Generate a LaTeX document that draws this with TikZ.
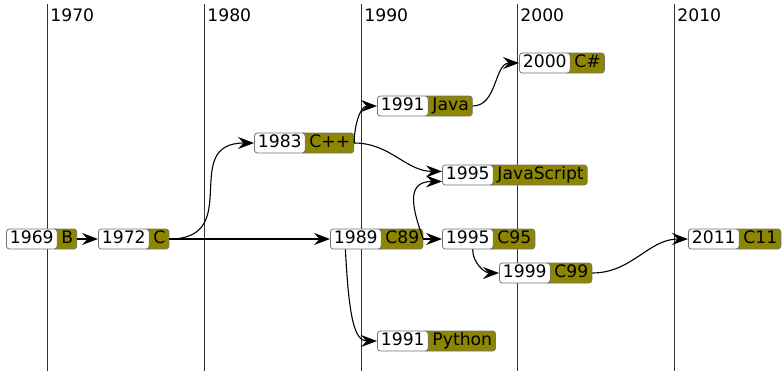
\documentclass[tikz,border=0pt]{standalone}
\usepackage{fontspec}
\setmainfont{DejaVu Sans}
\usepackage{tikz}
\usetikzlibrary{arrows.meta,positioning,backgrounds}
\tikzstyle{year} = [draw=black!55, fill=white, rounded corners=1.5pt, inner xsep=1.75pt, inner ysep=0pt, text height=6.4pt, text depth=2pt, minimum height=10pt, anchor=west]
\tikzstyle{lang} = [draw=black!55, fill=olive, rounded corners=1.5pt, inner xsep=1.75pt, inner ysep=0pt, text height=6.4pt, text depth=2pt, minimum height=10pt, execute at begin node={\hspace*{3pt}}]
\tikzstyle{decade} = [anchor=west, inner xsep=1.5pt, inner ysep=0pt]
\tikzstyle{tedge}  = [draw, line width=0.55pt, -{Stealth[length=8pt,width=6pt,inset=2.8pt]}]

\begin{document}
\begin{tikzpicture}[x=0.5pt, y=-0.5pt, font=\fontsize{8.6}{10}\selectfont]
\useasboundingbox (0,0) rectangle (784,371);

% decades =============================
\begin{scope}[on background layer]
\foreach \d/\x in {1970/47, 1980/204, 1990/361, 2000/517, 2010/674}
  \draw[black!80, line width=0.5pt] (\x,4) -- (\x,371);
\end{scope}
\foreach \d/\x in {1970/47, 1980/204, 1990/361, 2000/517, 2010/674}
  \node[decade] (d\d) at (\x,15) {\d};

% years
\node[year] (b-yr) at (6,239) {1969};
\node[year] (c-yr) at (98,239) {1972};
\node[year] (cpp-yr) at (254,143) {1983};
\node[year] (c89-yr) at (330,239) {1989};
\node[year] (java-yr) at (377,106) {1991};
\node[year] (python-yr) at (377,341) {1991};
\node[year] (js-yr) at (442,175) {1995};
\node[year] (c95-yr) at (442,239) {1995};
\node[year] (c99-yr) at (499,273) {1999};
\node[year] (csharp-yr) at (519,63) {2000};
\node[year] (c11-yr) at (688,239) {2011};

% languages
\begin{scope}[on background layer]
\node[lang, right=-3pt of b-yr] (b) {B};
\node[lang, right=-3pt of c-yr] (c) {C};
\node[lang, right=-3pt of cpp-yr] (cpp) {C++};
\node[lang, right=-3pt of c89-yr] (c89) {C89};
\node[lang, right=-3pt of java-yr] (java) {Java};
\node[lang, right=-3pt of python-yr] (python) {Python};
\node[lang, right=-3pt of js-yr] (js) {JavaScript};
\node[lang, right=-3pt of c95-yr] (c95) {C95};
\node[lang, right=-3pt of c99-yr] (c99) {C99};
\node[lang, right=-3pt of csharp-yr] (csharp) {C\#};
\node[lang, right=-3pt of c11-yr] (c11) {C11};
\end{scope}

%edges
\path[tedge] (b) -- (c-yr);
\path[tedge] (c) to[out=0, in=180, looseness=1.5] (cpp-yr);
\path[tedge] (c) -- (c89-yr);
\path[tedge] (cpp.east) to[out=90, in=180] (java-yr);
\path[tedge] (cpp) to[out=0, in=180] (js-yr.172);
\path[tedge] (java) to[out=0, in=180] (csharp-yr);
\path[tedge] (c89.east) to[out=110, in=180, looseness=1.5] (js-yr.194);
\path[tedge] (c89) -- (c95-yr);
\path[tedge] (c89-yr.225) to[out=-87, in=180, out looseness=1.8, in looseness=0.6] (python-yr);
\path[tedge] (c95-yr.-65) to[out=-90, in=180] (c99-yr);
\path[tedge] (c99) to[out=0, in=180] (c11-yr);

\end{tikzpicture}
\end{document}
